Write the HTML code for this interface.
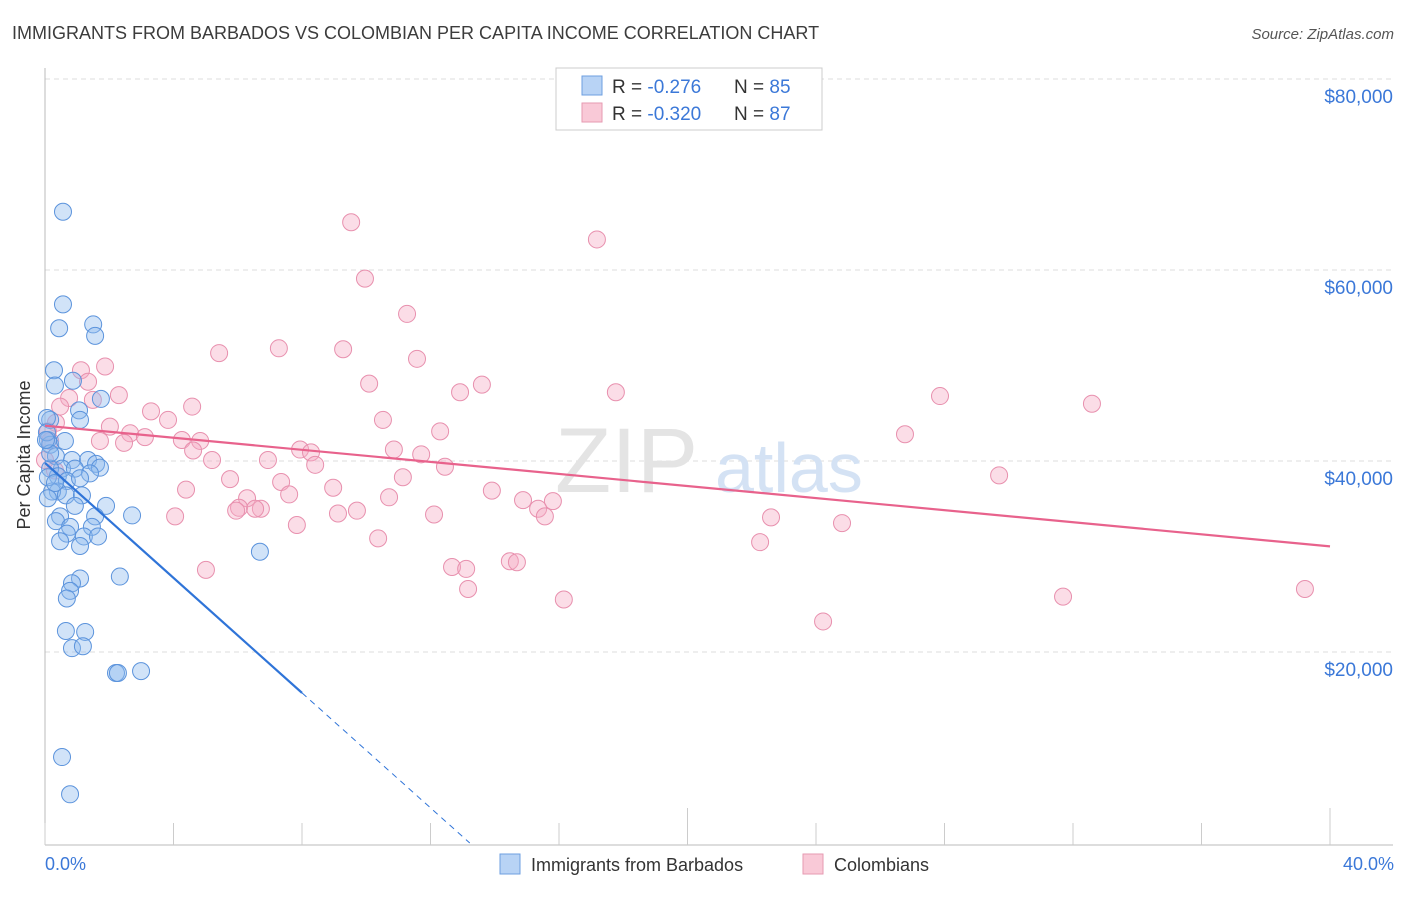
<!DOCTYPE html>
<html><head><meta charset="utf-8"><style>
body{margin:0;background:#fff;font-family:"Liberation Sans",sans-serif}
svg text{font-family:"Liberation Sans",sans-serif}
</style></head><body>
<svg id="chart" width="1406" height="892" xmlns="http://www.w3.org/2000/svg">
<text x="12" y="39" font-size="18" fill="#3c3c3c">IMMIGRANTS FROM BARBADOS VS COLOMBIAN PER CAPITA INCOME CORRELATION CHART</text>
<text x="1394" y="39" font-size="15" fill="#555" text-anchor="end" font-style="italic">Source: ZipAtlas.com</text>
<g id="grid"></g>
<text x="555" y="492" font-size="92" fill="#e4e4e4" font-family="Liberation Serif">ZIP</text>
<text x="715" y="492" font-size="70" fill="#d4e2f4">atlas</text>
<g id="axes"></g>
<g id="pts"></g>
<g id="trends"></g>
<text x="30" y="455" font-size="18" fill="#333" text-anchor="middle" transform="rotate(-90 30 455)">Per Capita Income</text>
<text x="45" y="870" font-size="18" fill="#3b78d8">0.0%</text>
<text x="1394" y="870" font-size="18" fill="#3b78d8" text-anchor="end">40.0%</text>
<g>
<rect x="500" y="854" width="20" height="20" fill="#b8d3f5" stroke="#6e9fe0"/>
<text x="531" y="871" font-size="18" fill="#333">Immigrants from Barbados</text>
<rect x="803" y="854" width="20" height="20" fill="#f9c9d7" stroke="#e69ab2"/>
<text x="834" y="871" font-size="18" fill="#333">Colombians</text>
</g>
<g>
<rect x="556" y="68" width="266" height="62" fill="#fff" stroke="#ccc"/>
<rect x="582" y="76" width="20" height="19" fill="#b8d3f5" stroke="#6e9fe0"/>
<text x="612" y="93" font-size="19" fill="#333">R =  <tspan fill="#3b78d8">-0.276</tspan></text>
<text x="734" y="93" font-size="19" fill="#333">N =  <tspan fill="#3b78d8">85</tspan></text>
<rect x="582" y="103" width="20" height="19" fill="#f9c9d7" stroke="#e69ab2"/>
<text x="612" y="120" font-size="19" fill="#333">R =  <tspan fill="#3b78d8">-0.320</tspan></text>
<text x="734" y="120" font-size="19" fill="#333">N =  <tspan fill="#3b78d8">87</tspan></text>
</g>
</svg>
<script>
const yTicks=[20000,40000,60000,80000];
const yTickLabels=["$20,000","$40,000","$60,000","$80,000"];
const xTicks=[0,4,8,12,16,20,24,28,32,36,40];
const bluePct=[0.56,0.56,0.44,1.5,1.56,0.28,0.31,1.74,0.87,1.06,1.09,0.16,0.09,0.16,0.62,0.34,0.84,1.34,1.59,1.71,0.53,0.93,1.4,0.16,0.4,0.68,1.09,0.4,0.22,0.65,1.15,1.9,1.56,0.47,0.93,0.34,0.78,1.46,0.68,1.21,1.65,0.47,1.09,2.71,6.69,2.33,1.09,0.84,0.78,0.68,0.65,1.25,0.84,1.18,2.21,2.27,2.99,0.53,0.78,0.06,0.06,0.16,0.09,0.31,0.09,0.03];
const blueVal=[66100,56400,53900,54300,53100,49500,47900,46500,48400,45300,44300,44300,42200,41700,42100,40500,40100,40100,39700,39300,39200,39200,38700,39200,38400,37900,38200,36800,36800,36400,36400,35300,34200,34200,35300,33700,33100,33100,32400,32100,32100,31600,31100,34300,30500,27900,27700,27200,26400,25600,22200,22100,20400,20600,17800,17800,18000,9000,5100,44500,43000,40800,38300,37700,36100,42200];
const pinkPct=[9.53,17.18,9.96,11.27,7.28,9.28,5.42,11.58,1.87,1.12,10.09,13.6,1.34,17.77,12.92,2.3,0.75,1.49,4.58,3.3,27.86,32.59,3.83,10.52,2.02,12.3,2.65,3.11,4.26,4.83,2.46,26.77,1.71,7.94,8.28,4.61,10.86,11.71,5.2,6.94,8.41,12.45,5.76,4.39,7.35,29.7,7.6,8.97,11.14,13.91,6.29,6.04,14.88,15.81,6.72,5.95,6.54,10.71,9.71,15.35,9.12,15.56,12.11,4.05,7.84,22.6,10.37,24.81,22.26,5.01,12.67,13.11,14.47,14.69,13.17,16.15,31.69,39.22,24.22,0.34,0.47,0.16,0.31,0.09,0.0];
const pinkVal=[65000,63200,59100,55400,51800,51700,51300,50700,49900,49500,48100,48000,48300,47200,47200,46900,46600,46400,45700,45200,46800,46000,44300,44300,43600,43100,42900,42500,42200,42100,41900,42800,42100,41200,40900,41100,41200,40700,40100,40100,39600,39400,38100,37000,37800,38500,36500,37200,38300,36900,36100,35100,35900,35800,35000,34800,35000,36200,34800,35000,34500,34200,34400,34200,33300,34100,31900,33500,31500,28600,28900,28700,29500,29400,26600,25500,25800,26600,23200,44000,45700,42100,39000,43100,40100];
const blueTrend=[39800,-3010];
const pinkTrend=[43700,-316];
const X=v=>45+v*32.125, Y=v=>843-v*191/20000;
const NS="http://www.w3.org/2000/svg";
function mk(p,t,a){const e=document.createElementNS(NS,t);for(const k in a)e.setAttribute(k,a[k]);p.appendChild(e);return e;}
const gridG=document.getElementById('grid'),axesG=document.getElementById('axes');
yTicks.forEach((t,i)=>{
 const l=mk(gridG,'line',{x1:45,x2:1393,y1:Y(t),y2:Y(t),stroke:'#dcdcdc','stroke-dasharray':'5,4'});
 
 
 const tx=mk(axesG,'text',{x:1393,y:Y(t)+24,'font-size':19,fill:'#3b78d8','text-anchor':'end'});
 tx.textContent=yTickLabels[i];
 
 
});
const topLine=mk(gridG,'line',{x1:45,x2:1393,y1:79,y2:79,stroke:'#dcdcdc','stroke-dasharray':'5,4'});


const ya=mk(axesG,'line',{x1:45,x2:45,y1:68,y2:845,stroke:'#bbb'});


const xa=mk(axesG,'line',{x1:45,x2:1393,y1:845,y2:845,stroke:'#bbb'});


xTicks.forEach(t=>{
 const long=(t===20||t===40);
 const l=mk(axesG,'line',{x1:X(t),x2:X(t),y1:long?808:823,y2:845,stroke:'#ccc'});
 
 
});
const ptsG=document.getElementById('pts');
pinkPct.forEach((p,i)=>{
 const c=mk(ptsG,'circle',{cx:X(p),cy:Y(pinkVal[i]),r:8.5,fill:'rgba(246,170,195,0.4)',stroke:'#e890ae','stroke-width':1});
 
 
});
bluePct.forEach((p,i)=>{
 const c=mk(ptsG,'circle',{cx:X(p),cy:Y(blueVal[i]),r:8.5,fill:'rgba(140,184,238,0.4)',stroke:'#5b93dc','stroke-width':1});
 
 
});
const trG=document.getElementById('trends');
const pl=mk(trG,'line',{x1:X(0),y1:Y(pinkTrend[0]),x2:X(40),y2:Y(pinkTrend[0]+pinkTrend[1]*40),stroke:'#e8628c','stroke-width':2.2});


const bl=mk(trG,'line',{x1:X(0),y1:Y(blueTrend[0]),x2:X(8),y2:Y(blueTrend[0]+blueTrend[1]*8),stroke:'#2f74d8','stroke-width':2.2});


const x0=-blueTrend[0]/blueTrend[1];
const bd=mk(trG,'line',{x1:X(8),y1:Y(blueTrend[0]+blueTrend[1]*8),x2:X(x0),y2:Y(0),stroke:'#2f74d8','stroke-width':1,'stroke-dasharray':'6,5'});


</script>
</body></html>
